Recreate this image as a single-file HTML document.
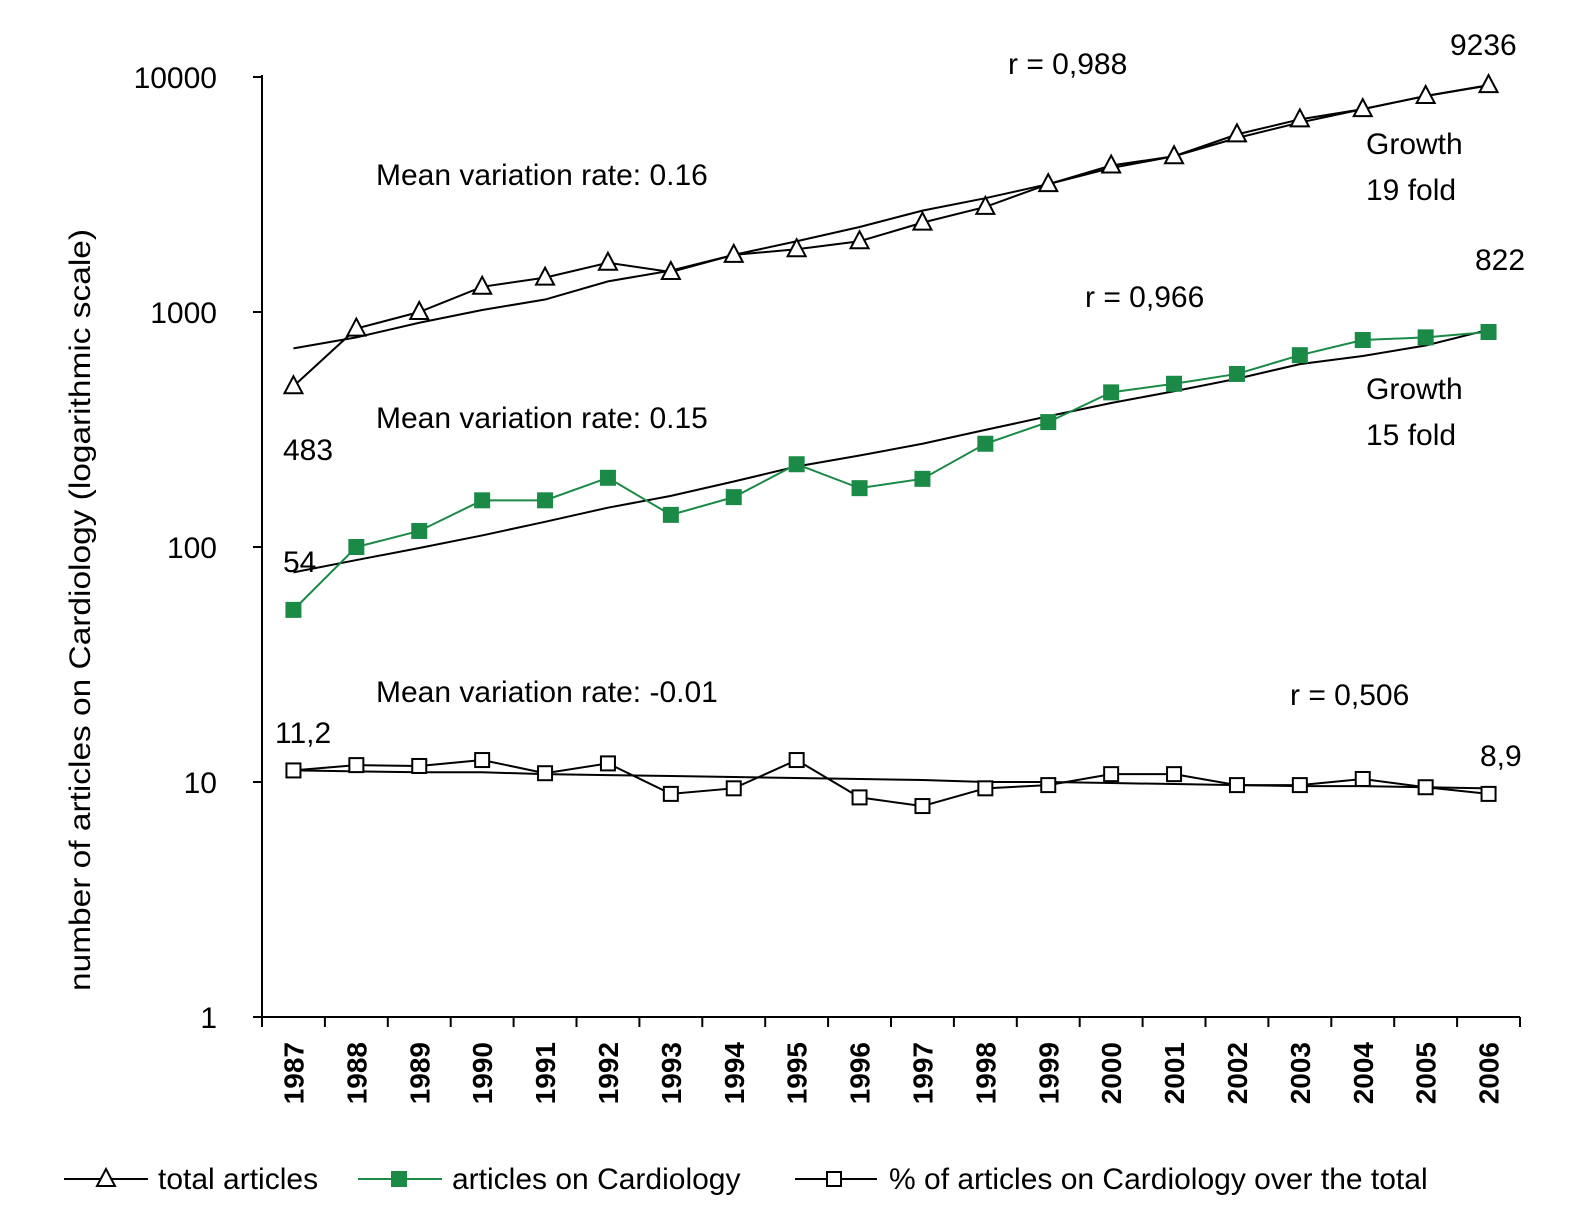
<!DOCTYPE html>
<html><head><meta charset="utf-8"><style>
body{margin:0;background:#fff}
svg text{font-family:"Liberation Sans Narrow","Liberation Sans",sans-serif;fill:#000}
</style></head><body>
<svg id="chart" width="1595" height="1225" viewBox="0 0 1595 1225" xmlns="http://www.w3.org/2000/svg">
<g id="plot"></g>
</svg>
<script>
const years=["1987","1988","1989","1990","1991","1992","1993","1994","1995","1996","1997","1998","1999","2000","2001","2002","2003","2004","2005","2006"];
const totalArticles=[483,850,1000,1280,1400,1620,1480,1750,1850,2000,2400,2800,3500,4200,4600,5700,6600,7300,8300,9236];
const totalTrend=[700,780,900,1020,1130,1350,1500,1750,2000,2300,2700,3050,3500,4100,4600,5500,6400,7300,8300,9200];
const cardioArticles=[54,100,117,158,158,197,137,163,225,178,195,275,340,455,495,545,655,760,780,822];
const cardioTrend=[78,88,99,112,128,147,165,190,220,245,275,315,360,410,460,520,600,650,720,840];
const percentValues=[11.2,11.8,11.7,12.4,10.9,12.0,8.9,9.4,12.4,8.6,7.9,9.4,9.7,10.8,10.8,9.7,9.7,10.3,9.5,8.9];
const percentTrend=[11.2,11.1,11.0,11.0,10.8,10.7,10.6,10.5,10.4,10.3,10.2,10.0,10.0,9.9,9.8,9.7,9.6,9.6,9.5,9.4];
const yTicks=[1,10,100,1000,10000];
const yTickLabels=["1","10","100","1000","10000"];

const NS="http://www.w3.org/2000/svg";
const g=document.getElementById('plot');
const X0=262,X1=1520,Y1=1017,DEC=235;
const step=(X1-X0)/years.length;
const x=i=>X0+step*(i+0.5);
const y=v=>Y1-Math.log10(v)*DEC;
function mk(t,a){const e=document.createElementNS(NS,t);for(const k in a)e.setAttribute(k,a[k]);g.appendChild(e);return e;}
function txt(s,xx,yy,opt){const e=mk('text',Object.assign({x:xx,y:yy,'font-size':30},opt||{}));e.textContent=s;return e;}

let e=mk('line',{x1:X0,y1:y(10000)-2,x2:X0,y2:Y1,stroke:'#000','stroke-width':2});


e=mk('line',{x1:X0,y1:Y1,x2:X1,y2:Y1,stroke:'#000','stroke-width':2});


yTicks.forEach((v,i)=>{
  mk('line',{x1:X0-9,y1:y(v),x2:X0,y2:y(v),stroke:'#000','stroke-width':2});
  const t=txt(yTickLabels[i],217,y(v)+11,{'text-anchor':'end'});
  
  
});
for(let i=0;i<=years.length;i++){mk('line',{x1:X0+step*i,y1:Y1,x2:X0+step*i,y2:Y1+10,stroke:'#000','stroke-width':2});}
years.forEach((yr,i)=>{
  const t=txt(yr,0,0,{'text-anchor':'end','font-weight':'bold','font-size':28,transform:`translate(${x(i)+10},1042) rotate(-90)`});
  
  
});
e=txt('number of articles on Cardiology (logarithmic scale)',0,0,{'text-anchor':'middle','font-size':30,transform:'translate(90,610) rotate(-90)',textLength:762,lengthAdjust:'spacingAndGlyphs'});



function line(arr,col,w,name){
  const p=mk('polyline',{points:arr.map((v,i)=>x(i)+','+y(v)).join(' '),fill:'none',stroke:col,'stroke-width':w});
  
  
}
function tri(cx,cy){return mk('polygon',{points:`${cx},${cy-10} ${cx-9},${cy+7} ${cx+9},${cy+7}`,fill:'#fff',stroke:'#000','stroke-width':2});}
function sq(cx,cy,fill,st){return mk('rect',{x:cx-7,y:cy-7,width:14,height:14,fill:fill,stroke:st,'stroke-width':2});}

line(totalTrend,'#000',2,'total-trend-line');
line(totalArticles,'#000',2,'total-articles-line');
totalArticles.forEach((v,i)=>{const p=tri(x(i),y(v));});
line(cardioTrend,'#000',2,'cardio-trend-line');
line(cardioArticles,'#1a8a46',2,'cardio-articles-line');
cardioArticles.forEach((v,i)=>{const p=sq(x(i),y(v),'#1a8a46','#1a8a46');});
line(percentTrend,'#000',2,'percent-trend-line');
line(percentValues,'#000',2,'percent-line');
percentValues.forEach((v,i)=>{const p=sq(x(i),y(v),'#fff','#000');});

const ann=[
 ['r = 0,988',1008,74],['9236',1450,55],['Mean variation rate: 0.16',376,185],['Growth',1366,154],['19 fold',1366,200],
 ['822',1475,270],['r = 0,966',1085,307],['Growth',1366,399],['15 fold',1366,445],['Mean variation rate: 0.15',376,428],
 ['483',283,460],['54',283,572],['Mean variation rate: -0.01',376,702],['r = 0,506',1290,705],['11,2',275,743],['8,9',1480,766]];
ann.forEach(a=>{const t=txt(a[0],a[1],a[2]);});

const LY=1179;
mk('line',{x1:64,y1:LY,x2:148,y2:LY,stroke:'#000','stroke-width':2});tri(106,LY);
e=txt('total articles',158,LY+10);
mk('line',{x1:358,y1:LY,x2:442,y2:LY,stroke:'#1a8a46','stroke-width':2});sq(399,LY,'#1a8a46','#1a8a46');
e=txt('articles on Cardiology',452,LY+10);
mk('line',{x1:795,y1:LY,x2:877,y2:LY,stroke:'#000','stroke-width':2});sq(834,LY,'#fff','#000');
e=txt('% of articles on Cardiology over the total',889,LY+10);
</script>
</body></html>
